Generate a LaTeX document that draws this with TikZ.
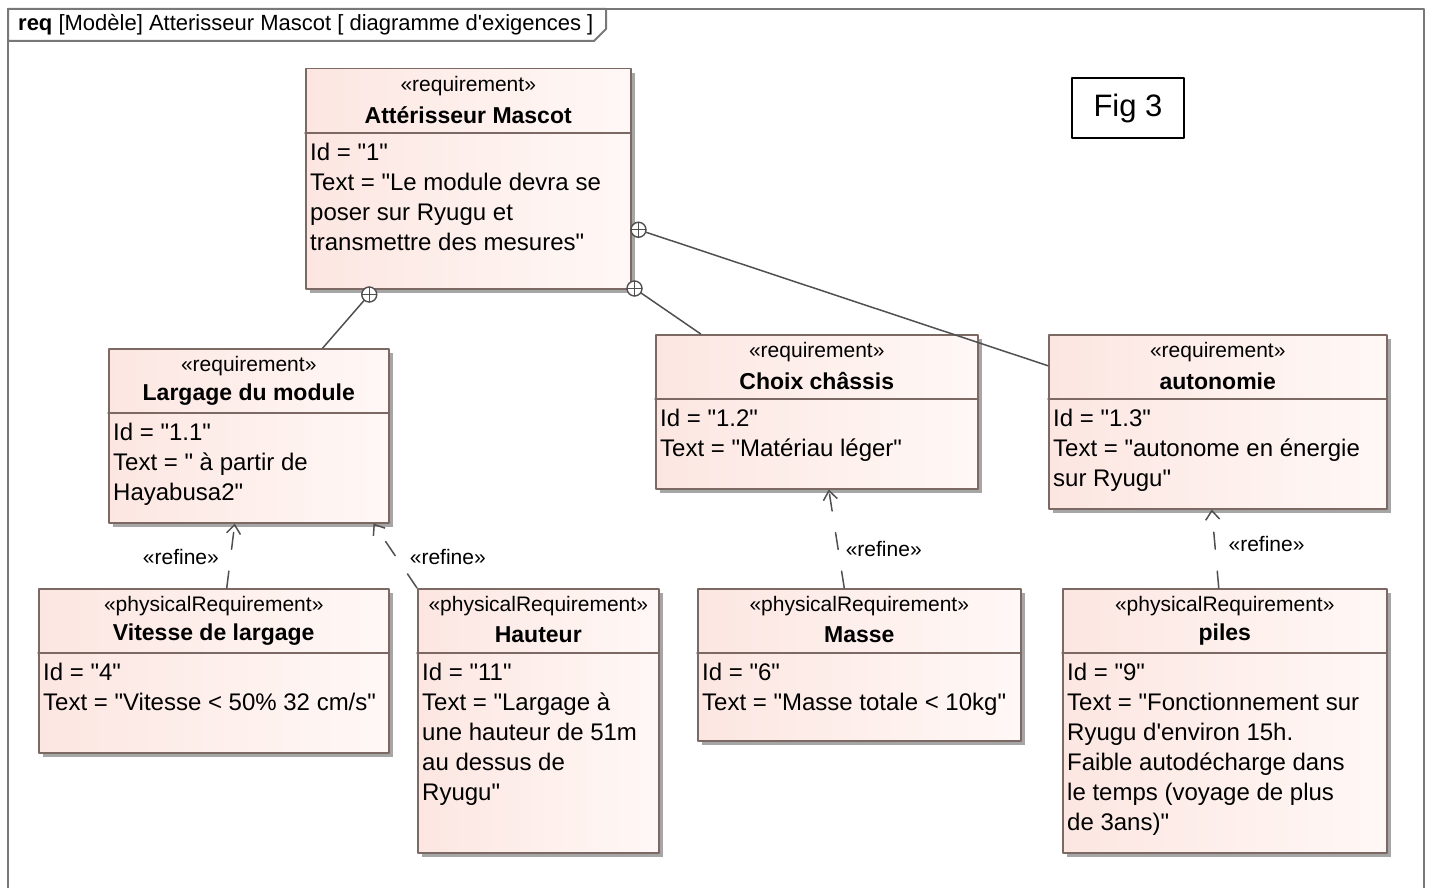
\documentclass[tikz,border=0pt]{standalone}
\usepackage{fontspec}
\setmainfont{Liberation Sans}[Ligatures=TeXOff]
\usetikzlibrary{arrows.meta,positioning,shadows}
\definecolor{boxl}{RGB}{252,230,225}
\definecolor{boxr}{RGB}{255,248,246}
\definecolor{boxline}{RGB}{125,105,100}
\definecolor{conn}{RGB}{80,80,80}
\definecolor{framegray}{RGB}{120,120,120}
\tikzset{
    reqbox/.style={draw=boxline, line width=1.5pt, left color=boxl, right color=boxr,
      anchor=north west, inner sep=0pt,
      drop shadow={shadow xshift=4pt, shadow yshift=-4pt, fill=black!35, opacity=1}},
    stereo/.style={font=\fontsize{21}{24}\selectfont, inner sep=0pt},
    reqname/.style={font=\bfseries\fontsize{23}{27}\selectfont, inner sep=0pt},
    reqbody/.style={font=\fontsize{24}{30}\selectfont, align=left, anchor=north west,
      inner xsep=5pt, inner ysep=0pt},
    sepline/.style={draw=boxline, line width=1.5pt},
    own/.style={draw=conn, line width=1.5pt},
    refineline/.style={draw=conn, line width=1.5pt, dash pattern=on 17pt off 22pt,
      -{Straight Barb[length=9pt,width=14pt]}},
    refinelbl/.style={font=\fontsize{21}{24}\selectfont, inner sep=1pt},
    oplus/.pic={
    \draw[conn, line width=1.4pt, fill=white] (0,0) circle (7.5pt);
    \draw[conn, line width=1.4pt] (-7.5pt,0) -- (7.5pt,0) (0,-7.5pt) -- (0,7.5pt);
    }
}
% box: name, top left, width, height, stereotype, title, body
\newcommand{\reqnode}[7]{%
    \node[reqbox, minimum width=#3pt, minimum height=#4pt] (#1) at (#2) {};
    \node[stereo] (#1-st) at ([yshift=-18pt]#1.north) {«#5»};
    \node[reqname] (#1-nm) at ([yshift=-47pt]#1.north) {#6};
    \draw[sepline] ([yshift=-65pt]#1.north west) -- ([yshift=-65pt]#1.north east);
    \node[reqbody] (#1-bd) at ([yshift=-75pt]#1.north west) {#7};
}

\begin{document}
\begin{tikzpicture}[line cap=round,line join=round,x=1pt,y=-1pt]
    \useasboundingbox (0,0) rectangle (1431,888);
    \clip (0,0) rectangle (1431,888);

    % frame
    \draw[framegray, line width=2.5pt] (8,9) rectangle (1424,900);
    \draw[framegray, line width=2pt, fill=white] (8,9) -- (606,9) -- (606,29) -- (594,41) -- (8,41) -- cycle;
    \node[anchor=west, font=\fontsize{22}{26}\selectfont, inner sep=0pt] (title) at (18,25)
        {\textbf{req} [Modèle] Atterisseur Mascot [ diagramme d'exigences ]};

    \node[draw, line width=1.5pt, minimum width=112pt, minimum height=60pt,
        font=\fontsize{31}{35}\selectfont] (fig) at (1128,108) {Fig 3};

    % requirements
    \reqnode{mascot}{305,68}{325}{220}{requirement}{Attérisseur Mascot}
        {Id = "1"\\Text = "Le module devra se\\poser sur Ryugu et\\transmettre des mesures"}
    \reqnode{largage}{108,348}{280}{174}{requirement}{Largage du module}
        {Id = "1.1"\\Text = " à partir de\\Hayabusa2"}
    \reqnode{chassis}{655,334}{322}{154}{requirement}{Choix châssis}
        {Id = "1.2"\\Text = "Matériau léger"}
    \reqnode{autonomie}{1048,334}{338}{174}{requirement}{autonomie}
        {Id = "1.3"\\Text = "autonome en énergie\\sur Ryugu"}

    % physical requirements
    \reqnode{vitesse}{38,588}{350}{164}{physicalRequirement}{Vitesse de largage}
        {Id = "4"\\Text = "Vitesse < 50\% 32 cm/s"}
    \reqnode{hauteur}{417,588}{241}{264}{physicalRequirement}{Hauteur}
        {Id = "11"\\Text = "Largage à\\une hauteur de 51m\\au dessus de\\Ryugu"}
    \reqnode{masse}{697,588}{323}{152}{physicalRequirement}{Masse}
        {Id = "6"\\Text = "Masse totale < 10kg"}
    \reqnode{piles}{1062,588}{324}{264}{physicalRequirement}{piles}
        {Id = "9"\\Text = "Fonctionnement sur\\Ryugu d'environ 15h.\\Faible autodécharge dans\\le temps (voyage de plus\\de 3ans)"}

    % containment
    \coordinate (o1) at ([shift={(-99,5)}]mascot.south);
    \coordinate (o2) at ([shift={(3,-1)}]mascot.south east);
    \coordinate (o3) at ([shift={(7,51)}]mascot.east);
    \draw[own] (o1) -- ([xshift=74pt]largage.north);
    \draw[own] (o2) -- ([xshift=-116pt]chassis.north);
    \draw[own] (o3) -- ([yshift=56pt]autonomie.west);
    \path (o1) pic {oplus};
    \path (o2) pic {oplus};
    \path (o3) pic {oplus};

    % refine
    \draw[refineline] ([xshift=13pt]vitesse.north) -- ([xshift=-14pt]largage.south)
        node[refinelbl, pos=0.48, left=10pt] (r1) {«refine»};
    \draw[refineline] (hauteur.north west) -- ([xshift=-16pt]largage.south east)
        node[refinelbl, pos=0.48, right=12pt] (r2) {«refine»};
    \draw[refineline] ([xshift=-15pt]masse.north) -- ([xshift=12pt]chassis.south)
        node[refinelbl, pos=0.4, right=6pt] (r3) {«refine»};
    \draw[refineline] ([xshift=-6pt]piles.north) -- ([xshift=-6pt]autonomie.south)
        node[refinelbl, pos=0.56, right=12pt] (r4) {«refine»};
\end{tikzpicture}
\end{document}
